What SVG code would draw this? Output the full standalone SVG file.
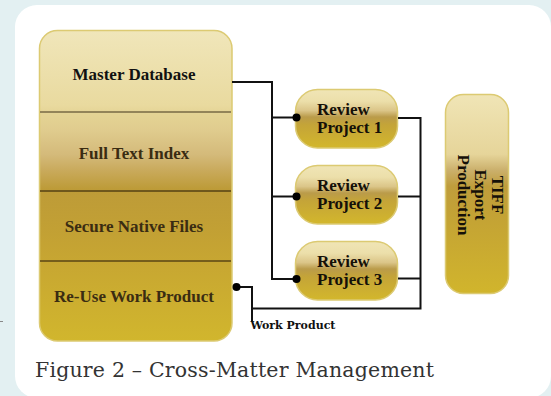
<svg xmlns="http://www.w3.org/2000/svg" width="551" height="396" viewBox="0 0 551 396">
<defs>
<linearGradient id="gMain" x1="0" y1="0" x2="0" y2="1">
<stop offset="0" stop-color="#f0e6ba"/>
<stop offset="0.24" stop-color="#e9da9f"/>
<stop offset="0.27" stop-color="#e4d394"/>
<stop offset="0.32" stop-color="#e0cc8e"/>
<stop offset="0.40" stop-color="#d4ba7a"/>
<stop offset="0.45" stop-color="#c9aa5c"/>
<stop offset="0.51" stop-color="#bd9b38"/>
<stop offset="0.64" stop-color="#c2a034"/>
<stop offset="0.74" stop-color="#c7a632"/>
<stop offset="1" stop-color="#d1b62d"/>
</linearGradient>
<linearGradient id="gRP" x1="0" y1="0" x2="0" y2="1">
<stop offset="0" stop-color="#f0e5b6"/>
<stop offset="0.2" stop-color="#ecdfaa"/>
<stop offset="0.36" stop-color="#dbc588"/>
<stop offset="0.47" stop-color="#ba9b4a"/>
<stop offset="0.6" stop-color="#c4a438"/>
<stop offset="1" stop-color="#d3b72c"/>
</linearGradient>
<linearGradient id="gTiff" x1="0" y1="0" x2="0" y2="1">
<stop offset="0" stop-color="#f0e5b6"/>
<stop offset="0.3" stop-color="#e6d59a"/>
<stop offset="0.38" stop-color="#cbb06c"/>
<stop offset="0.46" stop-color="#bf9d3c"/>
<stop offset="0.6" stop-color="#c3a235"/>
<stop offset="1" stop-color="#d1b52c"/>
</linearGradient>
</defs>
<style>
.lbl{font-family:"Liberation Serif","DejaVu Serif",serif;font-weight:bold;font-size:17px;}
.main{fill:#3a2c12;text-anchor:middle;}
.rp{fill:#151008;}
.wire{fill:none;stroke:#111;stroke-width:2;}
.dot{fill:#000;}
.box{stroke:#dcca72;stroke-width:1.5;}
</style>
<rect x="0" y="0" width="551" height="396" fill="#e3f0f2"/>
<rect x="15" y="5" width="536" height="393" rx="22" fill="#ffffff"/>
<line x1="0" y1="321.5" x2="3" y2="321.5" stroke="#888" stroke-width="1"/>

<g id="master">
<rect class="box" x="39.5" y="30.5" width="192.5" height="310.5" rx="18" fill="url(#gMain)"/>
<line x1="40" y1="112" x2="231" y2="112" stroke="#938459" stroke-width="1.8"/>
<line x1="40" y1="191" x2="231" y2="191" stroke="#6e571c" stroke-width="1.8"/>
<line x1="40" y1="261" x2="231" y2="261" stroke="#5a4515" stroke-width="1.5"/>
<text class="lbl main" x="134" y="80" style="fill:#111">Master Database</text>
<text class="lbl main" x="134" y="159">Full Text Index</text>
<text class="lbl main" x="134" y="231.5">Secure Native Files</text>
<text class="lbl main" x="134" y="301.5">Re-Use Work Product</text>
</g>

<g id="rp1">
<rect class="box" x="295.5" y="89.5" width="102" height="58.5" rx="22" fill="url(#gRP)"/>
<text class="lbl rp" x="317" y="115">Review</text>
<text class="lbl rp" x="317" y="132.5">Project 1</text>
</g>
<g id="rp2">
<rect class="box" x="295.5" y="165.5" width="102" height="58.5" rx="22" fill="url(#gRP)"/>
<text class="lbl rp" x="317" y="191">Review</text>
<text class="lbl rp" x="317" y="208.5">Project 2</text>
</g>
<g id="rp3">
<rect class="box" x="295.5" y="241.5" width="102" height="58.5" rx="22" fill="url(#gRP)"/>
<text class="lbl rp" x="317" y="267">Review</text>
<text class="lbl rp" x="317" y="284.5">Project 3</text>
</g>

<g id="tiff">
<rect class="box" x="445.5" y="94.5" width="63" height="199" rx="18" fill="url(#gTiff)"/>
<g transform="translate(474.5,195) rotate(90)">
<text class="lbl rp" x="0" y="-17" text-anchor="middle">TIFF</text>
<text class="lbl rp" x="0" y="0" text-anchor="middle">Export</text>
<text class="lbl rp" x="0" y="17" text-anchor="middle">Production</text>
</g>
</g>

<g id="connectors">
<polyline class="wire" points="232,82 272,82 272,279 296,279"/>
<line class="wire" x1="272" y1="117.5" x2="296" y2="117.5"/>
<line class="wire" x1="272" y1="196.5" x2="296" y2="196.5"/>
<circle class="dot" cx="296.5" cy="117.5" r="4"/>
<circle class="dot" cx="296.5" cy="196.5" r="4"/>
<circle class="dot" cx="296.5" cy="279" r="4"/>
<polyline class="wire" points="398,118 420.5,118 420.5,308.5 252,308.5"/>
<line class="wire" x1="398" y1="196.5" x2="420.5" y2="196.5"/>
<line class="wire" x1="398" y1="278.5" x2="420.5" y2="278.5"/>
<polyline class="wire" points="236.5,287 252,287 252,322"/>
<circle class="dot" cx="236.5" cy="287" r="4"/>
</g>
<text x="250.5" y="328.5" font-family="DejaVu Serif, Liberation Serif, serif" font-weight="bold" font-size="11" fill="#111">Work Product</text>

<text x="35" y="376.5" font-family="DejaVu Serif, Liberation Serif, serif" font-size="20.5" fill="#333" textLength="399">Figure 2 – Cross-Matter Management</text>
</svg>
